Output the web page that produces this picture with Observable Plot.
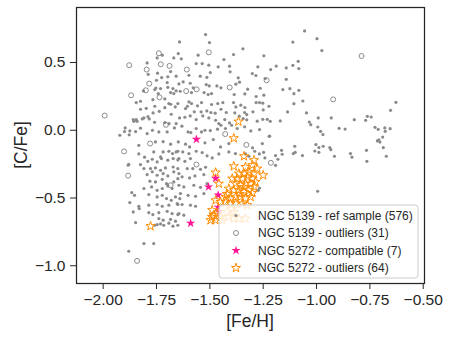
<!DOCTYPE html>
<html><head><meta charset="utf-8">
<script src="https://cdn.jsdelivr.net/npm/d3@7"></script>
<script src="https://cdn.jsdelivr.net/npm/@observablehq/plot@0.6"></script>
<style>body{margin:0;background:#fff}</style>
</head><body><div id="chart"></div>
<script>
// NGC 5139 - reference sample ([Fe/H], [C/Fe])
const ref5139 = [
[-1.723,0.554],[-1.669,0.534],[-1.794,0.497],[-1.789,0.413],[-1.745,0.421],[-1.684,0.433],[-1.215,0.448],[-1.750,0.369],[-1.726,0.389],[-1.700,0.352],[-1.731,0.308],[-1.697,0.317],[-1.673,0.308],[-1.811,0.290],[-1.758,0.300],[-1.742,0.271],[-1.684,0.278],[-1.669,0.271],[-1.845,0.204],[-1.825,0.214],[-1.767,0.226],[-1.711,0.231],[-1.692,0.197],[-1.683,0.192],[-1.223,0.177],[-1.798,0.162],[-1.758,0.177],[-1.711,0.167],[-1.662,0.172],[-1.825,0.155],[-1.766,0.128],[-1.737,0.140],[-1.681,0.118],[-1.859,0.079],[-1.845,0.079],[-1.817,0.084],[-1.784,0.084],[-1.759,0.059],[-1.711,0.057],[-1.691,0.049],[-1.231,0.081],[-1.922,-0.037],[-1.897,0.017],[-1.848,-0.010],[-1.825,0.015],[-1.794,-0.025],[-1.769,0.000],[-1.739,-0.012],[-1.700,-0.012],[-1.666,0.017],[-1.220,-0.044],[-1.878,-0.034],[-1.833,-0.111],[-1.755,-0.086],[-1.719,-0.084],[-1.684,-0.103],[-1.648,-0.086],[-1.614,-0.103],[-1.595,-0.123],[-1.523,-0.093],[-1.484,-0.069],[-1.450,-0.123],[-1.411,-0.098],[-1.300,-0.130],[-1.254,-0.098],
[-1.747,0.534],[-1.697,0.394],[-1.753,0.312],[-1.856,0.066],[-1.841,0.066],[-1.809,0.091],[-1.790,0.100],[-1.900,-0.010],[-1.875,-0.005],
[-1.520,0.706],[-1.642,0.652],[-1.502,0.647],[-1.345,0.601],[-1.648,0.566],[-1.634,0.527],[-1.555,0.554],[-1.434,0.522],[-1.389,0.559],[-1.247,0.549],[-1.564,0.492],[-1.536,0.492],[-1.505,0.480],[-1.461,0.468],[-1.408,0.473],[-1.275,0.468],[-1.658,0.399],[-1.598,0.406],[-1.545,0.399],[-1.498,0.426],[-1.514,0.391],[-1.405,0.431],[-1.367,0.387],[-1.301,0.418],[-1.284,0.404],[-1.241,0.382],[-1.625,0.357],[-1.645,0.342],[-1.592,0.347],[-1.578,0.313],[-1.517,0.337],[-1.503,0.327],[-1.467,0.327],[-1.448,0.313],[-1.378,0.340],[-1.361,0.355],[-1.323,0.303],[-1.264,0.310],[-1.658,0.291],[-1.639,0.288],[-1.586,0.278],[-1.527,0.278],[-1.508,0.264],[-1.492,0.271],[-1.386,0.264],[-1.336,0.268],[-1.283,0.249],[-1.247,0.259],[-1.650,0.197],[-1.598,0.209],[-1.605,0.177],[-1.586,0.197],[-1.558,0.180],[-1.539,0.204],[-1.492,0.190],[-1.463,0.197],[-1.439,0.204],[-1.389,0.204],[-1.378,0.172],[-1.355,0.185],[-1.336,0.168],[-1.283,0.204],[-1.267,0.204],[-1.252,0.200],[-1.614,0.160],[-1.573,0.136],[-1.541,0.136],[-1.514,0.143],[-1.495,0.131],[-1.475,0.126],[-1.448,0.155],[-1.423,0.131],[-1.383,0.128],[-1.362,0.104],[-1.337,0.131],[-1.327,0.116],[-1.298,0.136],[-1.250,0.150],[-1.642,0.091],[-1.617,0.096],[-1.592,0.106],[-1.564,0.079],[-1.533,0.106],[-1.505,0.091],[-1.473,0.074],[-1.458,0.049],[-1.430,0.079],[-1.408,0.054],[-1.344,0.086],[-1.327,0.077],[-1.278,0.067],[-1.252,0.081],[-1.658,0.049],[-1.631,0.030],[-1.602,-0.012],[-1.589,-0.017],[-1.564,0.013],[-1.539,-0.012],[-1.523,0.000],[-1.498,-0.002],[-1.464,0.008],[-1.448,0.037],[-1.427,0.013],[-1.398,0.037],[-1.372,0.013],[-1.337,0.025],[-1.308,-0.005],[-1.267,0.005],
[-1.056,0.733],[-1.111,0.651],[-0.998,0.676],[-0.975,0.588],[-1.086,0.509],[-1.189,0.474],[-1.142,0.460],[-1.111,0.479],[-1.083,0.455],[-1.142,0.376],[-1.158,0.300],[-1.125,0.307],[-1.106,0.270],[-1.083,0.295],[-1.106,0.196],[-1.064,0.216],[-0.628,0.206],[-0.653,0.147],[-1.047,0.128],[-0.992,0.091],[-0.931,0.091],[-0.823,0.078],[-0.770,0.073],[-0.762,0.103],[-0.744,0.098],[-1.034,0.061],[-1.027,0.041],[-0.994,0.024],[-0.981,-0.008],[-0.970,-0.032],[-0.894,0.014],[-0.866,0.009],[-0.726,0.022],[-0.711,0.007],[-0.680,0.017],[-0.655,0.012],[-0.678,-0.008],[-0.690,-0.050],[-0.715,-0.079],[-0.703,-0.087],[-0.708,-0.070],[-1.222,-0.045],[-1.102,-0.118],[-1.003,-0.106],[-0.989,-0.128],[-0.969,-0.118],[-0.938,-0.128],[-0.766,-0.148],[-0.687,-0.128],[-1.164,-0.148],
[-1.217,0.066],[-1.170,0.069],[-1.136,0.135],[-1.248,-0.163],[-1.242,-0.204],[-1.192,-0.187],[-1.161,-0.177],[-1.181,-0.214],[-1.192,-0.259],[-1.109,-0.172],[-1.100,-0.163],[-1.066,-0.187],[-0.989,-0.163],[-1.008,-0.153],[-0.933,-0.143],[-0.916,-0.192],[-0.841,-0.172],[-0.834,-0.199],[-0.764,-0.229],[-0.673,-0.192],[-0.995,-0.450],[-1.267,-0.426],[-1.273,-0.443],
[-1.833,-0.175],[-1.806,-0.199],[-1.763,-0.160],[-1.731,-0.197],[-1.719,-0.160],[-1.692,-0.155],[-1.675,-0.172],[-1.650,-0.155],[-1.883,-0.258],[-1.825,-0.253],[-1.791,-0.229],[-1.770,-0.214],[-1.747,-0.234],[-1.727,-0.209],[-1.697,-0.221],[-1.672,-0.209],[-1.650,-0.219],[-1.809,-0.283],[-1.778,-0.283],[-1.755,-0.278],[-1.731,-0.295],[-1.708,-0.278],[-1.672,-0.271],[-1.650,-0.283],[-1.794,-0.327],[-1.770,-0.307],[-1.747,-0.332],[-1.719,-0.320],[-1.697,-0.337],[-1.669,-0.307],[-1.645,-0.320],[-1.781,-0.376],[-1.755,-0.381],[-1.723,-0.362],[-1.703,-0.394],[-1.669,-0.381],[-1.650,-0.357],[-1.809,-0.430],[-1.773,-0.418],[-1.747,-0.443],[-1.723,-0.430],[-1.697,-0.411],[-1.677,-0.430],[-1.866,-0.460],[-1.853,-0.480],[-1.786,-0.475],[-1.747,-0.492],[-1.723,-0.480],[-1.703,-0.504],[-1.681,-0.517],[-1.661,-0.492],[-1.641,-0.504],[-1.875,-0.534],[-1.833,-0.561],[-1.831,-0.578],[-1.786,-0.553],[-1.747,-0.548],[-1.723,-0.561],[-1.692,-0.553],[-1.650,-0.548],[-1.859,-0.603],[-1.786,-0.608],[-1.767,-0.622],[-1.739,-0.608],[-1.700,-0.598],[-1.677,-0.615],[-1.650,-0.622],[-1.739,-0.652],[-1.719,-0.664],[-1.684,-0.657],[-1.661,-0.671],[-1.848,-0.681],[-1.759,-0.701],[-1.747,-0.696],[-1.731,-0.691],[-1.716,-0.701],[-1.692,-0.686],[-1.673,-0.708],[-1.650,-0.701],[-1.809,-0.836],[-1.763,-0.836],[-1.880,-0.893],[-1.880,-0.251],
[-1.658,-0.160],[-1.627,-0.160],[-1.598,-0.172],[-1.564,-0.155],[-1.536,-0.165],[-1.645,-0.209],[-1.617,-0.229],[-1.591,-0.209],[-1.513,-0.189],[-1.489,-0.204],[-1.458,-0.175],[-1.606,-0.283],[-1.580,-0.283],[-1.544,-0.288],[-1.520,-0.273],[-1.630,-0.344],[-1.595,-0.352],[-1.570,-0.337],[-1.528,-0.327],[-1.645,-0.406],[-1.622,-0.418],[-1.575,-0.406],[-1.544,-0.421],[-1.513,-0.394],[-1.638,-0.467],[-1.602,-0.480],[-1.567,-0.487],[-1.528,-0.467],[-1.653,-0.541],[-1.630,-0.548],[-1.591,-0.553],[-1.567,-0.561],[-1.645,-0.615],[-1.622,-0.627],
[-1.411,-0.160],[-1.380,-0.172],[-1.333,-0.175],[-1.290,-0.155],[-1.268,-0.175],[-1.317,-0.192]
];
// NGC 5139 - outliers
const out5139 = [
[-1.739,0.568],[-1.505,0.575],[-1.878,0.480],[-1.730,0.487],[-1.689,0.475],[-1.608,0.448],[-1.796,0.448],[-1.234,0.369],[-1.784,0.344],[-1.800,0.295],[-1.611,0.289],[-1.562,0.302],[-1.407,0.316],[-1.869,0.258],[-1.736,0.243],[-1.993,0.108],[-1.706,0.040],[-1.428,-0.028],[-1.780,-0.098],[-1.329,-0.108],[-0.789,0.548],[-0.922,0.228],[-1.902,-0.156],[-1.883,-0.335],[-1.684,-0.406],[-1.563,-0.253],[-1.214,-0.240],[-1.841,-0.964]
];
// NGC 5272 - compatible
const comp5272 = [
[-1.563,-0.067],[-1.473,-0.355],[-1.506,-0.418],[-1.461,-0.478],[-1.461,-0.568],[-1.455,-0.600],[-1.590,-0.686]
];
// NGC 5272 - outliers
const out5272 = [
[-1.366,0.064],[-1.388,-0.059],[-1.778,-0.708],[-1.473,-0.312],[-1.458,-0.394],[-1.388,-0.266],
[-1.340,-0.192],[-1.293,-0.221],[-1.333,-0.271],[-1.301,-0.258],[-1.278,-0.283],[-1.250,-0.332],[-1.364,-0.320],[-1.340,-0.320],[-1.317,-0.308],[-1.293,-0.320],[-1.395,-0.357],[-1.372,-0.357],[-1.348,-0.357],[-1.325,-0.344],[-1.301,-0.357],[-1.286,-0.381],[-1.379,-0.394],[-1.356,-0.406],[-1.333,-0.394],[-1.309,-0.394],[-1.293,-0.418],[-1.411,-0.431],[-1.387,-0.443],[-1.364,-0.443],[-1.340,-0.455],[-1.317,-0.443],[-1.301,-0.463],[-1.426,-0.492],[-1.403,-0.504],[-1.379,-0.492],[-1.356,-0.492],[-1.333,-0.504],[-1.309,-0.492],[-1.473,-0.517],[-1.450,-0.529],[-1.426,-0.529],[-1.403,-0.541],[-1.379,-0.541],[-1.348,-0.541],[-1.325,-0.553],[-1.489,-0.590],[-1.481,-0.627],[-1.465,-0.615],[-1.450,-0.640],[-1.442,-0.664],[-1.473,-0.664],[-1.411,-0.640],[-1.387,-0.652],[-1.364,-0.652],[-1.333,-0.652],[-1.419,-0.603],[-1.387,-0.603],[-1.497,-0.664],
[-1.420,-0.470],[-1.340,-0.420],[-1.360,-0.470],[-1.395,-0.580],[-1.490,-0.640]
];
const xTicks = [-2, -1.75, -1.5, -1.25, -1, -0.75, -0.5];
const yTicks = [-1, -0.5, 0, 0.5];
const xLabel = "[Fe/H]", yLabel = "[C/Fe]";
const legendLabels = ["NGC 5139 - ref sample (576)", "NGC 5139 - outliers (31)", "NGC 5272 - compatible (7)", "NGC 5272 - outliers (64)"];

const ink = "#262626";
const grayDot = "#8a8a8a", ringCol = "#7f7f7f", pink = "#ff1493", orange = "#ff8c00";
const starR = 2.9;
const pos = {x: d => d[0], y: d => d[1]};
const fmt = n => d => (d < 0 ? "\u2212" : "") + Math.abs(d).toFixed(n);

const chart = Plot.plot({
  width: 455, height: 342,
  marginLeft: 76, marginRight: 31, marginTop: 7, marginBottom: 59,
  style: {fontFamily: "'Liberation Sans', Arial, sans-serif", fontSize: "15.5px", color: ink, background: "#fff"},
  x: {domain: [-2.125, -0.494]},
  y: {domain: [-1.131, 0.906]},
  marks: [
    Plot.dot(ref5139, {...pos, r: 1.6, fill: grayDot}),
    Plot.dot(out5139, {...pos, r: 2.5, fill: "none", stroke: ringCol, strokeWidth: 0.9}),
    Plot.dot(comp5272, {...pos, symbol: "star", r: starR, fill: pink}),
    Plot.dot(out5272, {...pos, symbol: "star", r: starR, fill: "none", stroke: orange, strokeWidth: 1}),
    Plot.frame({stroke: ink, strokeWidth: 1.25}),
    Plot.axisX({ticks: xTicks, tickFormat: fmt(2), tickSize: 6, tickPadding: 4, label: null}),
    Plot.axisY({ticks: yTicks, tickFormat: fmt(1), tickSize: 6, tickPadding: 5, label: null})
  ]
});
document.getElementById("chart").appendChild(chart);

const svg = d3.select(chart);
svg.append("text").attr("x", 250).attr("y", 327).attr("text-anchor", "middle")
  .attr("font-size", 17.5).attr("fill", ink).text(xLabel);
svg.append("text").attr("transform", "translate(27,145) rotate(-90)").attr("text-anchor", "middle")
  .attr("font-size", 17.5).attr("fill", ink).text(yLabel);

// legend
const lg = svg.append("g").attr("text-anchor", "start");
lg.append("rect").attr("x", 219).attr("y", 205).attr("width", 199).attr("height", 73).attr("rx", 3)
  .attr("fill", "#fff").attr("fill-opacity", 0.8).attr("stroke", "#cccccc").attr("stroke-width", 1);
const rowY = i => 215.5 + i * 17.5;
const starPath = d3.symbol(d3.symbolStar, Math.PI * starR * starR)();
lg.append("circle").attr("cx", 236).attr("cy", rowY(0)).attr("r", 1.6).attr("fill", grayDot);
lg.append("circle").attr("cx", 236).attr("cy", rowY(1)).attr("r", 2.5).attr("fill", "none").attr("stroke", ringCol).attr("stroke-width", 0.9);
lg.append("path").attr("d", starPath).attr("transform", `translate(236,${rowY(2)})`).attr("fill", pink);
lg.append("path").attr("d", starPath).attr("transform", `translate(236,${rowY(3)})`).attr("fill", "none").attr("stroke", orange);
legendLabels.forEach((t, i) => {
  lg.append("text").attr("x", 258).attr("y", rowY(i)).attr("dy", "0.36em").attr("text-anchor", "start")
    .attr("font-size", 12).attr("fill", ink).text(t);
});
</script>
</body></html>
